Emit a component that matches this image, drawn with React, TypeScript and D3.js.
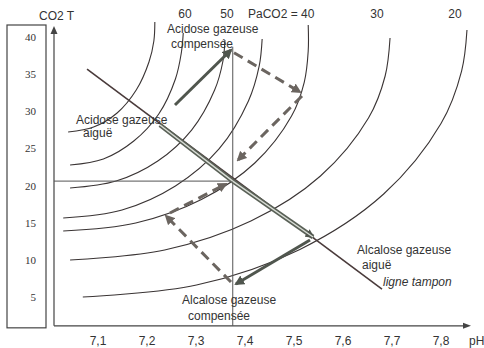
import React from 'react';
import * as d3 from 'd3';

const W = 484;
const H = 348;

// axis ticks
const phTicks = [7.1, 7.2, 7.3, 7.4, 7.5, 7.6, 7.7, 7.8];
const co2Ticks = [40, 35, 30, 25, 20, 15, 10, 5];

// PaCO2 isopleths, [pH, CO2 total]
const isoTop = [[7.039, 27.22], [7.091, 27.89], [7.139, 29.78], [7.178, 32.87], [7.204, 36.65], [7.214, 39.48], [7.216, 42.04]];
const iso60 = [[7.043, 22.77], [7.111, 23.58], [7.173, 26.0], [7.224, 29.64], [7.258, 34.36], [7.27, 37.86], [7.274, 40.55]];
const iso50 = [[7.043, 19.67], [7.137, 20.61], [7.222, 23.31], [7.291, 27.48], [7.338, 32.87], [7.355, 36.78], [7.359, 39.61]];
const iso45 = [[7.029, 15.63], [7.149, 16.71], [7.258, 19.94], [7.347, 24.93], [7.407, 31.39], [7.429, 36.11], [7.435, 39.75]];
const iso40 = [[7.029, 13.88], [7.177, 14.96], [7.311, 18.12], [7.42, 23.04], [7.495, 29.37], [7.521, 33.95], [7.529, 38.13], [7.529, 41.63]];
const iso30 = [[7.043, 9.97], [7.236, 11.32], [7.412, 15.22], [7.554, 21.29], [7.652, 29.1], [7.686, 34.76], [7.696, 39.88]];
const iso20 = [[7.069, 4.99], [7.301, 6.6], [7.512, 11.4], [7.683, 18.86], [7.8, 28.35], [7.842, 35.43], [7.853, 40.96]];
const isopleths = [isoTop, iso60, iso50, iso45, iso40, iso30, iso20];

// top labels of isopleths: [text, pH at centre]
const isoLabels = [['60', 7.2776], ['50', 7.3633], ['30', 7.6694], ['20', 7.8286]];

// key states, [pH, CO2]
const normal = [7.375, 20.6];
const bufferLine = [[7.0776, 35.7], [7.6796, 6.06]];
const acuteAcid = [[7.2265, 28.16], normal];
const acuteAlk = [normal, [7.5388, 13.07]];
const solidArrows = [
  [[7.2571, 30.85], [7.3714, 38.26]],
  [[7.5327, 12.66], [7.3816, 6.74]],
];
const dashedArrows = [
  [[7.3776, 37.9], [7.5122, 32.6]],
  [[7.5163, 32.07], [7.3857, 23.44]],
  [[7.3714, 7.0], [7.2388, 15.9]],
  [[7.2469, 16.3], [7.3612, 20.21]],
];
const verticalRef = [[7.375, 1.1], [7.375, 38.7]];
const horizontalRef = [[7.0102, 20.6], normal];

const x = d3.scaleLinear().domain([7.0, 7.9]).range([49, 490]);
const y = d3.scaleLinear().domain([0, 45]).range([334, 0]);
const AX0 = 1.1; // CO2 level of the pH axis
const PH0 = 7.0102; // pH level of the CO2 axis

const curveGen = d3
  .line<number[]>()
  .x((d) => x(d[0]))
  .y((d) => y(d[1]))
  .curve(d3.curveCatmullRom.alpha(0.5));
const straight = d3
  .line<number[]>()
  .x((d) => x(d[0]))
  .y((d) => y(d[1]));

const SANS = '"Liberation Sans", Arial, sans-serif';
const SERIF = '"Liberation Serif", "Times New Roman", serif';
const TXT = '#333';

export default function App() {
  const axX = x(PH0);
  const axY = y(AX0);
  return (
    <svg
      width={W}
      height={H}
      style={{ position: 'absolute', left: 0, top: 0, background: '#fff' }}
    >
      <defs>
        <marker id="hs" viewBox="0 0 10 10" refX="8" refY="5" markerWidth="10" markerHeight="10" markerUnits="userSpaceOnUse" orient="auto">
          <path d="M0,0 L10,5 L0,10 z" fill="#50564e" />
        </marker>
        <marker id="hd" viewBox="0 0 10 10" refX="8" refY="5" markerWidth="10" markerHeight="10" markerUnits="userSpaceOnUse" orient="auto">
          <path d="M0,0 L10,5 L0,10 z" fill="#6b6560" />
        </marker>
        <marker id="ha" viewBox="0 0 10 10" refX="8" refY="5" markerWidth="9" markerHeight="9" markerUnits="userSpaceOnUse" orient="auto">
          <path d="M0,0 L10,5 L0,10 z" fill="#50564e" />
        </marker>
      </defs>
      <rect x={0} y={0} width={W} height={H} fill="#fff" />

      {/* side box with CO2 values */}
      <rect x={7} y={25} width={39} height={axY - 25 + 2} fill="none" stroke="#444" strokeWidth={1.2} />
      {co2Ticks.map((v) => (
        <text key={v} x={36} y={y(v) + 4} textAnchor="end" fontFamily={SERIF} fontSize={11} fill={TXT}>
          {v}
        </text>
      ))}

      {/* axes */}
      <line x1={axX} y1={axY} x2={axX} y2={31} stroke="#444" strokeWidth={1.2} />
      <path d={`M${axX - 3.5},${34} L${axX},${26} L${axX + 3.5},${34} z`} fill="#444" />
      <line x1={axX} y1={axY} x2={466} y2={axY} stroke="#444" strokeWidth={1.2} />
      <path d={`M${463},${axY - 3} L${471},${axY} L${463},${axY + 3} z`} fill="#444" />
      <text x={39} y={20} fontFamily={SANS} fontSize={12} fill={TXT}>CO2 T</text>
      {phTicks.map((p) => (
        <text key={p} x={x(p)} y={345} textAnchor="middle" fontFamily={SANS} fontSize={12} fill={TXT}>
          {p.toFixed(1).replace('.', ',')}
        </text>
      ))}
      <text x={469} y={345} fontFamily={SANS} fontSize={12} fill={TXT}>pH</text>

      {/* isopleths */}
      {isopleths.map((c, i) => (
        <path key={i} d={curveGen(c) || ''} fill="none" stroke="#3a3434" strokeWidth={1.1} />
      ))}
      {isoLabels.map(([t, p]) => (
        <text key={t} x={x(p as number)} y={18} textAnchor="middle" fontFamily={SANS} fontSize={12} fill={TXT}>
          {t}
        </text>
      ))}
      <text x={248} y={18} fontFamily={SANS} fontSize={12} fill={TXT}>PaCO2 = 40</text>

      {/* reference lines */}
      <path d={straight(verticalRef) || ''} stroke="#555" strokeWidth={1} fill="none" />
      <path d={straight(horizontalRef) || ''} stroke="#555" strokeWidth={1} fill="none" />

      {/* buffer line */}
      <path d={straight(bufferLine) || ''} stroke="#4a3b3b" strokeWidth={1.6} fill="none" />
      {[acuteAcid, acuteAlk].map((s, i) => (
        <g key={i}>
          <path d={straight(s) || ''} stroke="#5a6157" strokeWidth={4.6} fill="none" markerEnd={i === 1 ? 'url(#ha)' : undefined} />
          <path d={straight(s) || ''} stroke="#d9ddd6" strokeWidth={1.4} fill="none" />
        </g>
      ))}

      {/* arrows */}
      {solidArrows.map((s, i) => (
        <path key={i} d={straight(s) || ''} stroke="#50564e" strokeWidth={3} fill="none" markerEnd="url(#hs)" />
      ))}
      {dashedArrows.map((s, i) => (
        <path key={i} d={straight(s) || ''} stroke="#6b6560" strokeWidth={3} strokeDasharray="10 6" fill="none" markerEnd="url(#hd)" />
      ))}

      {/* annotations */}
      <text x={167} y={33} fontFamily={SANS} fontSize={12} fill={TXT}>Acidose gazeuse</text>
      <text x={171} y={48} fontFamily={SANS} fontSize={12} fill={TXT}>compensée</text>
      <text x={76} y={124} fontFamily={SANS} fontSize={12} fill={TXT}>Acidose gazeuse</text>
      <text x={83} y={137} fontFamily={SANS} fontSize={12} fill={TXT}>aiguë</text>
      <text x={182} y={304} fontFamily={SANS} fontSize={12} fill={TXT}>Alcalose gazeuse</text>
      <text x={188} y={320} fontFamily={SANS} fontSize={12} fill={TXT}>compensée</text>
      <text x={357} y={254} fontFamily={SANS} fontSize={12} fill={TXT}>Alcalose gazeuse</text>
      <text x={362} y={269} fontFamily={SANS} fontSize={12} fill={TXT}>aiguë</text>
      <text x={383} y={286} fontFamily={SANS} fontSize={12} fontStyle="italic" fill={TXT}>ligne tampon</text>
    </svg>
  );
}
